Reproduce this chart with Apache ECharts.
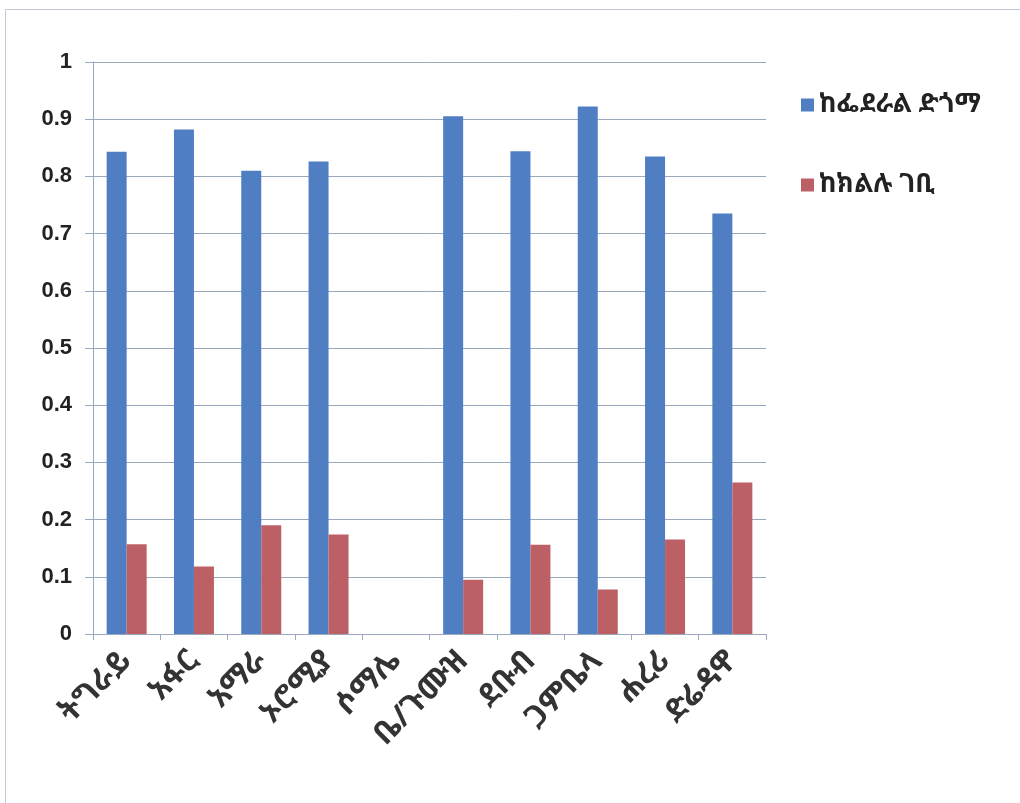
<!DOCTYPE html>
<html>
<head>
<meta charset="utf-8">
<script src="https://cdn.jsdelivr.net/npm/echarts@6/dist/echarts.min.js"></script>
<style>
  html, body { margin: 0; padding: 0; background: #ffffff; }
  #chart { width: 1020px; height: 803px; }
</style>
</head>
<body>
<div id="chart"></div>
<script>
// Regions (x-axis categories)
const regions = ['ትግራይ', 'አፋር', 'አማራ', 'ኦሮሚያ', 'ሶማሌ', 'ቤ/ጉሙዝ', 'ደቡብ', 'ጋምቤላ', 'ሐረሪ', 'ድሬዳዋ'];

// Share of budget from the federal subsidy
const federalShare = [0.843, 0.882, 0.810, 0.826, 0, 0.905, 0.844, 0.922, 0.835, 0.735];

// Share of budget from regional revenue
const regionalShare = [0.157, 0.118, 0.190, 0.174, 0, 0.095, 0.156, 0.078, 0.165, 0.265];

const seriesNames = ['ከፌደራል ድጎማ', 'ከክልሉ ገቢ'];

const gridColor = '#9aa8bd';
const ethiopicFont = '"Noto Sans Ethiopic", "Abyssinica SIL", "Noto Sans", "DejaVu Sans", sans-serif';

const chart = echarts.init(document.getElementById('chart'), null, { renderer: 'canvas' });

chart.setOption({
  backgroundColor: '#ffffff',
  animation: false,
  graphic: [{
    type: 'rect',
    shape: { x: 5.5, y: 9.5, width: 1030, height: 800 },
    style: { fill: 'none', stroke: '#c3c9d4', lineWidth: 1 },
    silent: true
  }],
  grid: { left: 93, right: 254, top: 62, bottom: 169, containLabel: false },
  legend: {
    orient: 'vertical',
    left: 796,
    top: 87,
    itemWidth: 13,
    itemHeight: 13,
    itemGap: 54,
    icon: 'rect',
    textStyle: { fontFamily: ethiopicFont, fontSize: 26, fontWeight: 'bold', color: '#222' },
    data: seriesNames
  },
  xAxis: {
    type: 'category',
    data: regions,
    axisLine: { lineStyle: { color: gridColor, width: 1 } },
    axisTick: { show: true, alignWithLabel: false, length: 6, lineStyle: { color: gridColor } },
    axisLabel: {
      interval: 0,
      rotate: 45,
      margin: 22,
      fontFamily: ethiopicFont,
      fontSize: 31,
      fontWeight: 'bold',
      color: '#333'
    }
  },
  yAxis: {
    type: 'value',
    min: 0,
    max: 1,
    interval: 0.1,
    axisLine: { show: true, lineStyle: { color: gridColor, width: 1 } },
    axisTick: { show: true, length: 8, lineStyle: { color: gridColor } },
    splitLine: { show: true, lineStyle: { color: gridColor, width: 1 } },
    axisLabel: {
      margin: 21,
      fontFamily: 'Liberation Sans, Arial, sans-serif',
      fontSize: 22,
      fontWeight: 'bold',
      color: '#222',
      formatter: v => String(Math.round(v * 10) / 10)
    }
  },
  series: [
    {
      name: seriesNames[0],
      type: 'bar',
      data: federalShare,
      barWidth: 20,
      barGap: '0%',
      itemStyle: { color: '#4f7fc2' }
    },
    {
      name: seriesNames[1],
      type: 'bar',
      data: regionalShare,
      barWidth: 20,
      barGap: '0%',
      itemStyle: { color: '#bd6066' }
    }
  ]
});
</script>
</body>
</html>
